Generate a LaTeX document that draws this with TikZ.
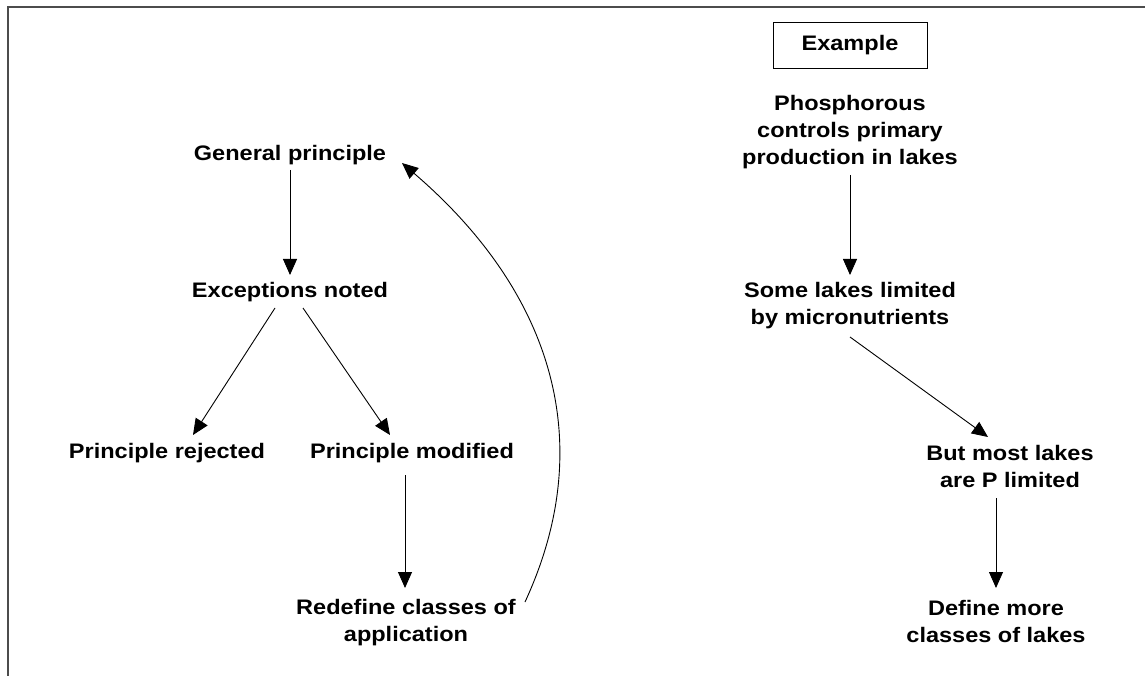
\documentclass[tikz,border=0pt]{standalone}
\usepackage{fontspec}
\newfontfamily\labfont{Liberation Sans}[FakeStretch=1.12]
\usetikzlibrary{arrows.meta,calc}
\begin{document}
\begin{tikzpicture}[x=1pt,y=-1pt,
  lab/.style={inner sep=0pt,anchor=base,align=center,font=\labfont\bfseries\fontsize{21}{27}\selectfont},
  arr/.style={line width=0.9pt,-{Triangle[length=16pt,width=14pt]}},
  frame/.style={line width=1.5pt,draw=black!70}]
\useasboundingbox (0,0) rectangle (1145,676);
\draw[frame] (8,676) -- (8,7) -- (1145,7);
% left column
\node[lab] (gp) at (290,161) {General principle};
\node[lab] (ex) at (290,297) {Exceptions noted};
\node[lab] (rej) at (167,458) {Principle rejected};
\node[lab] (mod) at (412,458) {Principle modified};
\node[lab] (red) at (406,641) {Redefine classes of\\application};
% right column
\node[draw,line width=0.9pt,minimum width=154pt,minimum height=46pt,inner sep=0pt,font=\labfont\bfseries\fontsize{21}{27}\selectfont] (exb) at (850,45) {Example};
\node[lab] (ph) at (850,165) {Phosphorous\\controls primary\\production in lakes};
\node[lab] (some) at (850,324) {Some lakes limited\\by micronutrients};
\node[lab] (but) at (1010,487) {But most lakes\\are P limited};
\node[lab] (def) at (996,642) {Define more\\classes of lakes};
% connectors
\draw[arr] ($(gp.base)+(0,9)$) -- ($(ex.base)+(0,-22)$);
\draw[arr] ($(ex.base)+(-15,11)$) -- ($(rej.base)+(26,-23)$);
\draw[arr] ($(ex.base)+(13,11)$) -- ($(mod.base)+(-22,-23)$);
\draw[arr] ($(mod.base)+(-7,17)$) -- ($(red.base)+(-1,-53)$);
\draw[arr] ($(red.base)+(119,-39)$) .. controls (600,440) and (550,290) .. ($(gp.base)+(112,2)$);
\draw[arr] ($(ph.base)+(0,10)$) -- ($(some.base)+(0,-49)$);
\draw[arr] ($(some.base)+(0,13)$) -- ($(but.base)+(-22,-50)$);
\draw[arr] ($(but.base)+(-14,11)$) -- ($(def.base)+(0,-54)$);
\end{tikzpicture}
\end{document}
